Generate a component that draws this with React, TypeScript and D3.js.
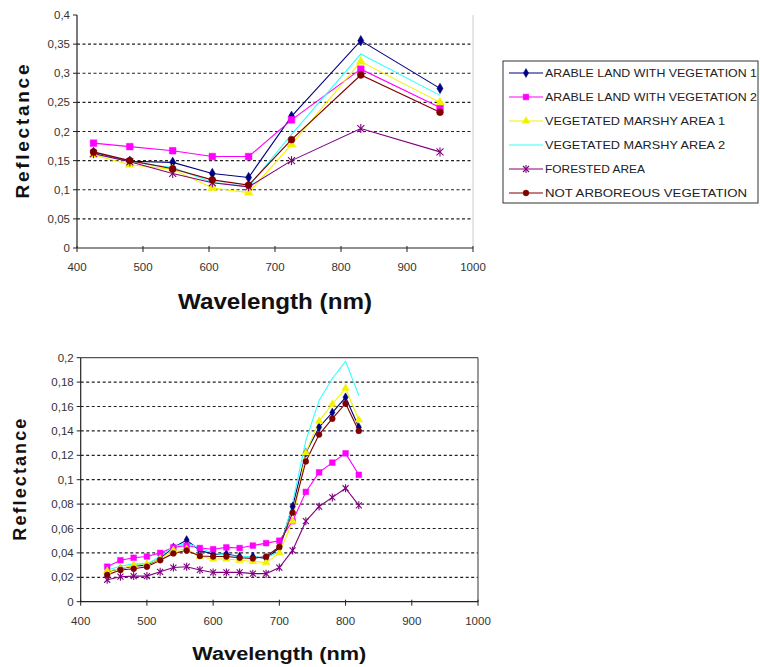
import React from "react";
import * as d3 from "d3";

// ---------- DATA ----------
const seriesNames = [
  "ARABLE LAND WITH VEGETATION 1",
  "ARABLE LAND WITH VEGETATION 2",
  "VEGETATED MARSHY AREA 1",
  "VEGETATED MARSHY AREA 2",
  "FORESTED AREA",
  "NOT ARBOREOUS VEGETATION",
];
const seriesColors = ["#000080", "#ff00ff", "#f2f200", "#33ffff", "#800080", "#800000"];
const seriesMarkers = ["diamond", "square", "triangle", "none", "star", "circle"];

// Top chart (broad bands)
const topWavelengths = [425, 480, 545, 605, 660, 725, 830, 950];
const topArable1 = [0.164, 0.149, 0.147, 0.128, 0.121, 0.226, 0.356, 0.274];
const topArable2 = [0.18, 0.174, 0.167, 0.157, 0.157, 0.22, 0.307, 0.241];
const topMarshy1 = [0.16, 0.143, 0.135, 0.103, 0.095, 0.178, 0.32, 0.25];
const topMarshy2 = [0.163, 0.148, 0.138, 0.113, 0.105, 0.195, 0.333, 0.262];
const topForested = [0.162, 0.148, 0.128, 0.112, 0.105, 0.15, 0.205, 0.165];
const topNotArboreous = [0.165, 0.15, 0.136, 0.117, 0.108, 0.186, 0.297, 0.233];

// Bottom chart (narrow bands)
const botWavelengths = [440, 460, 480, 500, 520, 540, 560, 580, 600, 620, 640, 660, 680, 700, 720, 740, 760, 780, 800, 820];
const botArable1 = [0.0246, 0.027, 0.029, 0.03, 0.0355, 0.0445, 0.0505, 0.042, 0.039, 0.039, 0.037, 0.037, 0.0355, 0.044, 0.078, 0.122, 0.143, 0.155, 0.1675, 0.143];
const botArable2 = [0.0287, 0.034, 0.036, 0.037, 0.04, 0.0445, 0.046, 0.044, 0.043, 0.0445, 0.044, 0.046, 0.048, 0.05, 0.066, 0.09, 0.106, 0.114, 0.1216, 0.104];
const botMarshy1 = [0.025, 0.027, 0.03, 0.031, 0.035, 0.042, 0.043, 0.037, 0.035, 0.035, 0.034, 0.033, 0.032, 0.04, 0.066, 0.122, 0.148, 0.162, 0.175, 0.149];
const botMarshy2 = [0.026, 0.029, 0.031, 0.031, 0.037, 0.045, 0.048, 0.044, 0.04, 0.038, 0.037, 0.037, 0.036, 0.041, 0.081, 0.132, 0.165, 0.183, 0.197, 0.169];
const botForested = [0.018, 0.0205, 0.021, 0.021, 0.0245, 0.028, 0.0287, 0.026, 0.024, 0.024, 0.024, 0.023, 0.023, 0.028, 0.042, 0.066, 0.078, 0.0855, 0.093, 0.079];
const botNotArboreous = [0.022, 0.026, 0.027, 0.0287, 0.034, 0.0396, 0.042, 0.0375, 0.037, 0.037, 0.036, 0.0355, 0.037, 0.045, 0.073, 0.115, 0.137, 0.15, 0.1625, 0.14];

const xTicks = [400, 500, 600, 700, 800, 900, 1000];
const topYTicks = [0, 0.05, 0.1, 0.15, 0.2, 0.25, 0.3, 0.35, 0.4];
const botYTicks = [0, 0.02, 0.04, 0.06, 0.08, 0.1, 0.12, 0.14, 0.16, 0.18, 0.2];

const xTitle = "Wavelength (nm)";
const yTitle = "Reflectance";

// ---------- HELPERS ----------
const FONT = "'Liberation Sans', Arial, sans-serif";
const fmt = (d: number) => (d === 0 ? "0" : String(+d.toFixed(3)).replace(".", ","));

function Marker({ type, x, y, color, size }: { type: string; x: number; y: number; color: string; size: number }) {
  if (type === "none") return null;
  const s = size;
  if (type === "star") {
    const h = s / 2;
    return (
      <g stroke={color} strokeWidth={1.1}>
        <line x1={x - h} y1={y - h} x2={x + h} y2={y + h} />
        <line x1={x - h} y1={y + h} x2={x + h} y2={y - h} />
        <line x1={x} y1={y - h - 1} x2={x} y2={y + h + 1} />
      </g>
    );
  }
  const symType =
    type === "diamond" ? d3.symbolDiamond : type === "square" ? d3.symbolSquare : type === "triangle" ? d3.symbolTriangle : d3.symbolCircle;
  const area = type === "diamond" ? s * s * 0.65 : type === "square" ? s * s * 0.9 : type === "triangle" ? s * s * 0.7 : s * s * 0.75;
  const path = d3.symbol().type(symType).size(area)() as string;
  return <path d={path} transform={`translate(${x},${y})`} fill={color} stroke={color} strokeWidth={0.5} />;
}

type ChartProps = {
  left: number;
  right: number;
  top: number;
  bottom: number;
  yMax: number;
  yTicks: number[];
  xs: number[];
  data: number[][];
  frame: boolean;
  markerSize: number;
  xTitleY: number;
  xTitleLen: number;
  xTitleSize: number;
  yTitleX: number;
  yTitleLen: number;
  yTitleSize: number;
};

function Chart(p: ChartProps) {
  const x = d3.scaleLinear().domain([400, 1000]).range([p.left, p.right]);
  const y = d3.scaleLinear().domain([0, p.yMax]).range([p.bottom, p.top]);
  const line = d3
    .line<number>()
    .x((_, i) => x(p.xs[i]))
    .y((d) => y(d));
  const cx = (p.left + p.right) / 2;
  const cy = (p.top + p.bottom) / 2;
  return (
    <g>
      {/* gridlines */}
      {p.yTicks
        .filter((t) => t > 0 && t < p.yMax)
        .map((t) => (
          <line key={"g" + t} x1={p.left} x2={p.right} y1={y(t)} y2={y(t)} stroke="#222" strokeWidth={1.2} strokeDasharray="3,2.5" />
        ))}
      {/* frame */}
      {p.frame ? (
        <>
          <line x1={p.left} x2={p.right} y1={p.top} y2={p.top} stroke="#555" strokeWidth={1.2} />
          <line x1={p.right} x2={p.right} y1={p.top} y2={p.bottom} stroke="#555" strokeWidth={1.2} />
        </>
      ) : (
        <line x1={p.right} x2={p.right} y1={p.top} y2={p.bottom} stroke="#ccc" strokeWidth={1} />
      )}
      {/* axes */}
      <line x1={p.left} x2={p.left} y1={p.top} y2={p.bottom} stroke="#222" strokeWidth={1.2} />
      <line x1={p.left} x2={p.right} y1={p.bottom} y2={p.bottom} stroke="#222" strokeWidth={1.2} />
      {p.yTicks.map((t) => (
        <g key={"yt" + t}>
          <line x1={p.left - 4} x2={p.left} y1={y(t)} y2={y(t)} stroke="#222" strokeWidth={1} />
          <text x={p.left - 7} y={y(t) + 4} textAnchor="end" fontSize={11.5} fontFamily={FONT} fill="#333">
            {fmt(t)}
          </text>
        </g>
      ))}
      {xTicks.map((t) => (
        <g key={"xt" + t}>
          <line x1={x(t)} x2={x(t)} y1={p.bottom - 2} y2={p.bottom + 4} stroke="#222" strokeWidth={1} />
          <text x={x(t)} y={p.bottom + 23} textAnchor="middle" fontSize={11.5} fontFamily={FONT} fill="#333">
            {t}
          </text>
        </g>
      ))}
      {/* series */}
      {p.data.map((vals, si) => (
        <path key={"l" + si} d={line(vals) as string} fill="none" stroke={seriesColors[si]} strokeWidth={1.1} />
      ))}
      {p.data.map((vals, si) => (
        <g key={"m" + si}>
          {vals.map((v, i) => (
            <Marker key={i} type={seriesMarkers[si]} x={x(p.xs[i])} y={y(v)} color={seriesColors[si]} size={p.markerSize} />
          ))}
        </g>
      ))}
      {/* titles */}
      <text
        x={cx}
        y={p.xTitleY}
        textAnchor="middle"
        fontSize={p.xTitleSize}
        fontWeight="bold"
        fontFamily={FONT}
        fill="#111"
        textLength={p.xTitleLen}
        lengthAdjust="spacingAndGlyphs"
      >
        {xTitle}
      </text>
      <text
        transform={`translate(${p.yTitleX},${cy}) rotate(-90)`}
        textAnchor="middle"
        fontSize={p.yTitleSize}
        fontWeight="bold"
        fontFamily={FONT}
        fill="#111"
        textLength={p.yTitleLen}
        lengthAdjust="spacing"
      >
        {yTitle}
      </text>
    </g>
  );
}

function Legend() {
  const left = 503;
  const right = 758;
  const top = 61;
  const bottom = 203;
  const rowY = d3.scaleLinear().domain([0, 5]).range([73, 193]);
  const textLens = [212, 212, 180, 180, 100, 202];
  return (
    <g>
      <rect x={left} y={top} width={right - left} height={bottom - top} fill="#fff" stroke="#333" strokeWidth={1} />
      {seriesNames.map((name, i) => (
        <g key={name}>
          <line x1={509} x2={543} y1={rowY(i)} y2={rowY(i)} stroke={seriesColors[i]} strokeWidth={1.2} />
          <Marker type={seriesMarkers[i]} x={526} y={rowY(i)} color={seriesColors[i]} size={6} />
          <text
            x={545}
            y={rowY(i) + 4}
            fontSize={11}
            fontFamily={FONT}
            fill="#222"
            textLength={textLens[i]}
            lengthAdjust="spacingAndGlyphs"
          >
            {name}
          </text>
        </g>
      ))}
    </g>
  );
}

export default function App() {
  const topData = [topArable1, topArable2, topMarshy1, topMarshy2, topForested, topNotArboreous];
  const botData = [botArable1, botArable2, botMarshy1, botMarshy2, botForested, botNotArboreous];
  return (
    <svg
      width={760}
      height={667}
      viewBox="0 0 760 667"
      style={{ position: "absolute", left: 0, top: 0, background: "#fff" }}
    >
      <rect width={760} height={667} fill="#fff" />
      <Chart
        left={77}
        right={473}
        top={15}
        bottom={248}
        yMax={0.4}
        yTicks={topYTicks}
        xs={topWavelengths}
        data={topData}
        frame={false}
        markerSize={7}
        xTitleY={309}
        xTitleLen={194}
        xTitleSize={22}
        yTitleX={29}
        yTitleLen={134}
        yTitleSize={19}
      />
      <Chart
        left={80.7}
        right={478}
        top={357.7}
        bottom={601.7}
        yMax={0.2}
        yTicks={botYTicks}
        xs={botWavelengths}
        data={botData}
        frame={true}
        markerSize={6}
        xTitleY={660}
        xTitleLen={174}
        xTitleSize={18}
        yTitleX={26}
        yTitleLen={122}
        yTitleSize={18}
      />
      <Legend />
    </svg>
  );
}
